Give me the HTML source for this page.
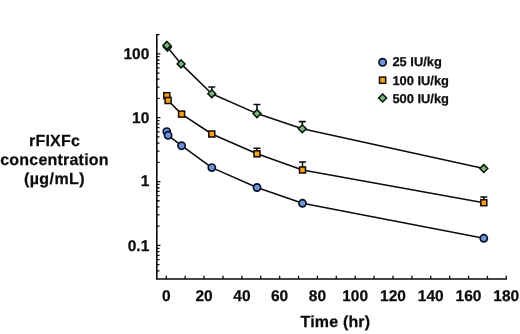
<!DOCTYPE html>
<html lang="en">
<head>
<meta charset="utf-8">
<title>rFIXFc concentration vs time</title>
<style>
html,body{margin:0;padding:0;background:#fff;}
body{width:520px;height:334px;position:relative;overflow:hidden;}
</style>
</head>
<body>
<svg width="520" height="334" viewBox="0 0 520 334" style="position:absolute;left:0;top:0;filter:blur(0.45px)">
<rect width="520" height="334" fill="#fff"/>
<g stroke="#0a0a0a" stroke-width="1.6" fill="none" stroke-linecap="butt">
<path d="M156.8 33.97 V279.0 H506.92"/>
<path d="M156.8 270.83h2.7M156.8 264.64h2.7M156.8 259.58h2.7M156.8 255.30h2.7M156.8 251.60h2.7M156.8 248.33h2.7M156.8 245.41h3.6M156.8 226.18h2.7M156.8 214.94h2.7M156.8 206.96h2.7M156.8 200.77h2.7M156.8 195.71h2.7M156.8 191.43h2.7M156.8 187.73h2.7M156.8 184.46h2.7M156.8 181.54h3.6M156.8 162.31h2.7M156.8 151.07h2.7M156.8 143.09h2.7M156.8 136.90h2.7M156.8 131.84h2.7M156.8 127.56h2.7M156.8 123.86h2.7M156.8 120.59h2.7M156.8 117.67h3.6M156.8 98.44h2.7M156.8 87.20h2.7M156.8 79.22h2.7M156.8 73.03h2.7M156.8 67.97h2.7M156.8 63.69h2.7M156.8 59.99h2.7M156.8 56.72h2.7M156.8 53.80h3.6M156.8 34.57h2.7" stroke-width="1.3"/>
<path d="M166.30 279.0v-3.2M185.19 279.0v-3.2M204.08 279.0v-3.2M222.97 279.0v-3.2M241.86 279.0v-3.2M260.75 279.0v-3.2M279.64 279.0v-3.2M298.53 279.0v-3.2M317.42 279.0v-3.2M336.31 279.0v-3.2M355.20 279.0v-3.2M374.09 279.0v-3.2M392.98 279.0v-3.2M411.87 279.0v-3.2M430.76 279.0v-3.2M449.65 279.0v-3.2M468.54 279.0v-3.2M487.43 279.0v-3.2M506.32 279.0v-3.2" stroke-width="1.3"/>
</g>
<g stroke="#0c0c10" stroke-width="1.55" fill="none" stroke-linejoin="round">
<polyline points="166.9,45.4 167.4,47.1 181.1,63.9 211.8,93.7 257.0,113.6 302.3,128.7 483.8,168.55"/>
<polyline points="166.8,95.7 168.1,100.5 181.6,114.1 211.8,134.0 257.0,153.8 302.5,170.0 483.8,202.7"/>
<polyline points="166.8,131.6 168.1,135.3 181.6,145.7 211.8,167.6 257.0,187.5 302.5,203.3 483.8,238.3"/>
<path d="M211.8 93.7V86.9M208.3 86.9h7M257.0 113.6V104.5M253.5 104.5h7M302.3 128.7V121.6M298.8 121.6h7M257.0 153.8V148.2M253.5 148.2h7M302.5 170.0V162.0M299.0 162.0h7M483.8 202.7V196.9M480.3 196.9h7"/>
</g>
<g fill="#7fb57f" stroke="#081a0b" stroke-width="1.55">
<path d="M483.8 164.60000000000002L487.75 168.55L483.8 172.5L479.85 168.55Z"/>
<path d="M302.3 124.74999999999999L306.25 128.7L302.3 132.64999999999998L298.35 128.7Z"/>
<path d="M257.0 109.64999999999999L260.95 113.6L257.0 117.55L253.05 113.6Z"/>
<path d="M211.8 89.75L215.75 93.7L211.8 97.65L207.85000000000002 93.7Z"/>
<path d="M181.1 59.949999999999996L185.04999999999998 63.9L181.1 67.85L177.15 63.9Z"/>
<path d="M167.4 43.15L171.35 47.1L167.4 51.050000000000004L163.45000000000002 47.1Z"/>
<path d="M166.9 41.449999999999996L170.85 45.4L166.9 49.35L162.95000000000002 45.4Z"/>
<path d="M382.6 94.05L386.55 98.0L382.6 101.95L378.65000000000003 98.0Z"/>
</g>
<g fill="#f6a31c" stroke="#1c0f02" stroke-width="1.55">
<rect x="163.80" y="92.70" width="6.0" height="6.0"/>
<rect x="165.10" y="97.50" width="6.0" height="6.0"/>
<rect x="178.60" y="111.10" width="6.0" height="6.0"/>
<rect x="208.80" y="131.00" width="6.0" height="6.0"/>
<rect x="254.00" y="150.80" width="6.0" height="6.0"/>
<rect x="299.50" y="167.00" width="6.0" height="6.0"/>
<rect x="480.80" y="199.70" width="6.0" height="6.0"/>
<rect x="379.50" y="77.10" width="6.2" height="6.2"/>
</g>
<g fill="#6d94d6" stroke="#081026" stroke-width="1.7">
<circle cx="166.8" cy="131.6" r="3.6"/>
<circle cx="168.1" cy="135.3" r="3.6"/>
<circle cx="181.6" cy="145.7" r="3.6"/>
<circle cx="211.8" cy="167.6" r="3.6"/>
<circle cx="257.0" cy="187.5" r="3.6"/>
<circle cx="302.5" cy="203.3" r="3.6"/>
<circle cx="483.8" cy="238.3" r="3.6"/>
<circle cx="382.6" cy="62.3" r="3.65"/>
</g>
<g font-family="'Liberation Sans', Arial, Helvetica, sans-serif" font-weight="bold" fill="#0c0c0c" stroke="#0c0c0c" stroke-width="0.25" stroke-linejoin="round" style="text-rendering:geometricPrecision">
<g font-size="15.5" text-anchor="middle">
<text x="166.3" y="301">0</text>
<text x="204.1" y="301">20</text>
<text x="241.9" y="301">40</text>
<text x="279.6" y="301">60</text>
<text x="317.4" y="301">80</text>
<text x="355.2" y="301">100</text>
<text x="393.0" y="301">120</text>
<text x="430.8" y="301">140</text>
<text x="468.5" y="301">160</text>
<text x="506.3" y="301">180</text>
</g>
<g font-size="15.5" text-anchor="end">
<text x="149.3" y="59">100</text>
<text x="149.3" y="123">10</text>
<text x="149.3" y="186">1</text>
<text x="149.3" y="251">0.1</text>
</g>
<text x="335.4" y="327" font-size="16" letter-spacing="0.18" text-anchor="middle">Time (hr)</text>
<g font-size="16" letter-spacing="0.22" text-anchor="middle">
<text x="54.5" y="146">rFIXFc</text>
<text x="54.5" y="165">concentration</text>
<text x="54.5" y="184" letter-spacing="0.45">(µg/mL)</text>
</g>
<g font-size="12.9">
<text x="392.4" y="66.3">25 IU/kg</text>
<text x="392.4" y="84.7">100 IU/kg</text>
<text x="392.4" y="102.9">500 IU/kg</text>
</g>
</g>
</svg>
</body>
</html>
